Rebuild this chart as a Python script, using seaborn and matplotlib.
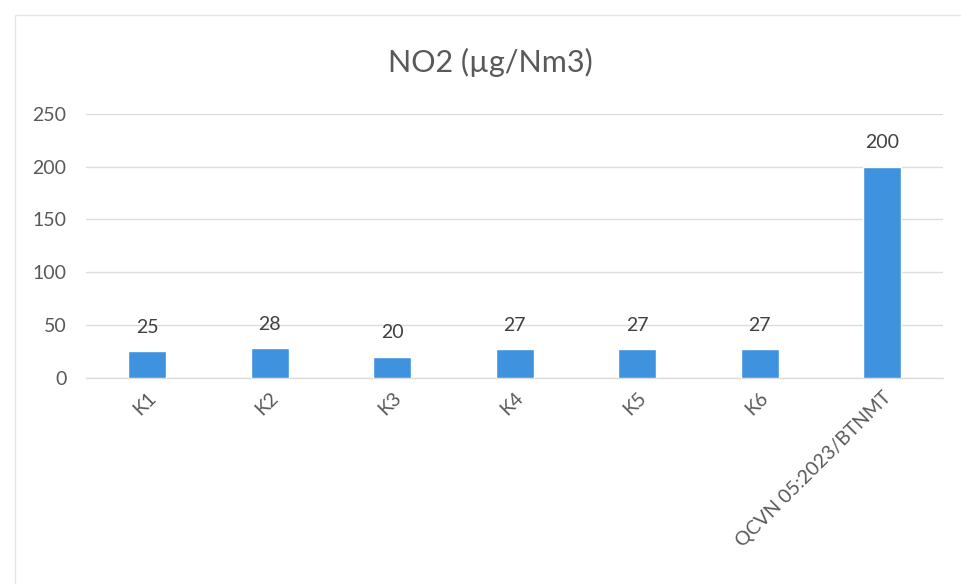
import matplotlib
matplotlib.use("Agg")
import matplotlib.pyplot as plt
import seaborn as sns
import pandas as pd
from matplotlib.patches import Rectangle

categories = ["K1", "K2", "K3", "K4", "K5", "K6", "QCVN 05:2023/BTNMT"]
values = [25, 28, 20, 27, 27, 27, 200]
y_ticks = [0, 50, 100, 150, 200, 250]
title = "NO2 (µg/Nm3)"

sns.set_theme(style="white")
plt.rcParams["font.family"] = ["Lato", "DejaVu Sans"]

text_color = "#595959"
bar_color = "#3f92de"
grid_color = "#dcdcdc"

df = pd.DataFrame({"site": categories, "no2": values})

fig = plt.figure(figsize=(9.61, 5.84), dpi=100)
ax = fig.add_axes([0.0895, 0.353, 0.892, 0.452])

sns.barplot(data=df, x="site", y="no2", color=bar_color, width=0.31,
            saturation=1, ax=ax, zorder=3)

ax.set_ylim(0, 250)
ax.set_yticks(y_ticks)
ax.set_xlim(-0.5, len(categories) - 0.5)
ax.yaxis.grid(True, color=grid_color, linewidth=1.0, zorder=0)
ax.set_axisbelow(True)
for side in ["top", "right", "left"]:
    ax.spines[side].set_visible(False)
ax.spines["bottom"].set_color(grid_color)
ax.spines["bottom"].set_linewidth(1.0)

ax.set_xlabel("")
ax.set_ylabel("")
ax.tick_params(axis="y", length=0, pad=14, labelsize=14, labelcolor=text_color)
ax.tick_params(axis="x", length=0, pad=8, labelsize=14, labelcolor=text_color)
for lbl in ax.get_xticklabels():
    lbl.set_rotation(45)
    lbl.set_ha("right")
    lbl.set_rotation_mode("anchor")

for container in ax.containers:
    ax.bar_label(container, labels=[str(v) for v in values], padding=11,
                 fontsize=14, color="#404040")

fig.text(0.51, 0.893, title, ha="center", va="center", fontsize=22,
         color=text_color)

# chart frame
fig.patches.append(Rectangle((0.016, -0.05), 1.2, 1.025, transform=fig.transFigure,
                             fill=False, edgecolor="#e6e6e6", linewidth=1.0))

fig.savefig("out.png", dpi=100, facecolor="white")
